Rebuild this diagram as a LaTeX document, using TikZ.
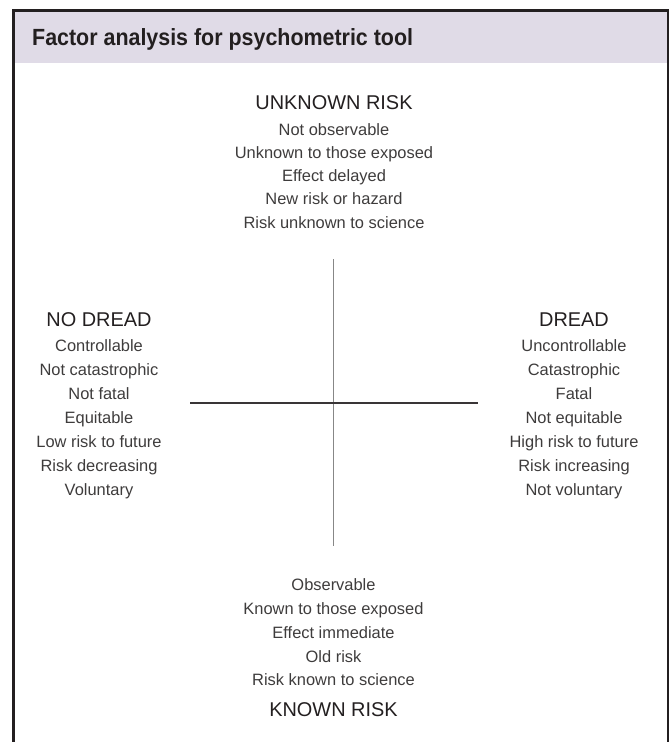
\documentclass[tikz,border=0pt]{standalone}
\usepackage{fontspec}
\setmainfont{Liberation Sans}
\newfontfamily\titlefont{Liberation Sans}[FakeStretch=0.915]
\usepackage{tikz}
\usetikzlibrary{positioning}
\usepackage{xcolor}
\definecolor{panellilac}{RGB}{224,219,231}
\definecolor{frameblack}{RGB}{35,31,32}
\definecolor{textgrey}{RGB}{62,60,60}
\definecolor{axisgrey}{RGB}{135,135,135}
\tikzset{
  pole/.style={anchor=base, inner sep=0pt, text=frameblack, font=\fontsize{20}{24}\selectfont},
  item/.style={anchor=base, inner sep=0pt, text=textgrey, font=\fontsize{16.5}{20}\selectfont},
}

\begin{document}
\begin{tikzpicture}[x=1bp, y=-1bp]
\useasboundingbox (0,0) rectangle (670,742);
% header band and frame
\fill[panellilac] (13.8,10.7) rectangle (668,62.7);
\draw[frameblack, line width=2.8bp] (13.8,745) -- (13.8,10.7) -- (668,10.7) -- (668,745);
\node[anchor=base west, inner sep=0pt, text=frameblack, font=\titlefont\bfseries\fontsize{23.5}{28}\selectfont] (title) at (32,45.7) {Factor analysis for psychometric tool};

% axes
\coordinate (top) at (333.5,259);
\coordinate (bottom) at (333.5,546);
\coordinate (left) at (190,403);
\coordinate (right) at (478,403);
\draw[axisgrey, line width=1.3bp] (top) -- (bottom);
\draw[frameblack!90, line width=1.1bp] (left) -- (right);

% unknown risk
\node[pole] (unknown) at (334,109.3) {UNKNOWN RISK};
\foreach \txt [count=\i] in {Not observable, Unknown to those exposed, Effect delayed, New risk or hazard, Risk unknown to science}
  \node[item] (u\i) at (334,{135+23.25*(\i-1)}) {\txt};

% no dread
\node[pole] (nodread) at (99,326) {NO DREAD};
\foreach \txt [count=\i] in {Controllable, Not catastrophic, Not fatal, Equitable, Low risk to future, Risk decreasing, Voluntary}
  \node[item] (n\i) at (99,{351+24*(\i-1)}) {\txt};

% dread
\node[pole] (dread) at (574,326) {DREAD};
\foreach \txt [count=\i] in {Uncontrollable, Catastrophic, Fatal, Not equitable, High risk to future, Risk increasing, Not voluntary}
  \node[item] (d\i) at (574,{351+24*(\i-1)}) {\txt};

% known risk
\foreach \txt [count=\i] in {Observable, Known to those exposed, Effect immediate, Old risk, Risk known to science}
  \node[item] (k\i) at (333.5,{590.7+23.8*(\i-1)}) {\txt};
\node[pole] (known) at (333.5,716.7) {KNOWN RISK};
\end{tikzpicture}
\end{document}
